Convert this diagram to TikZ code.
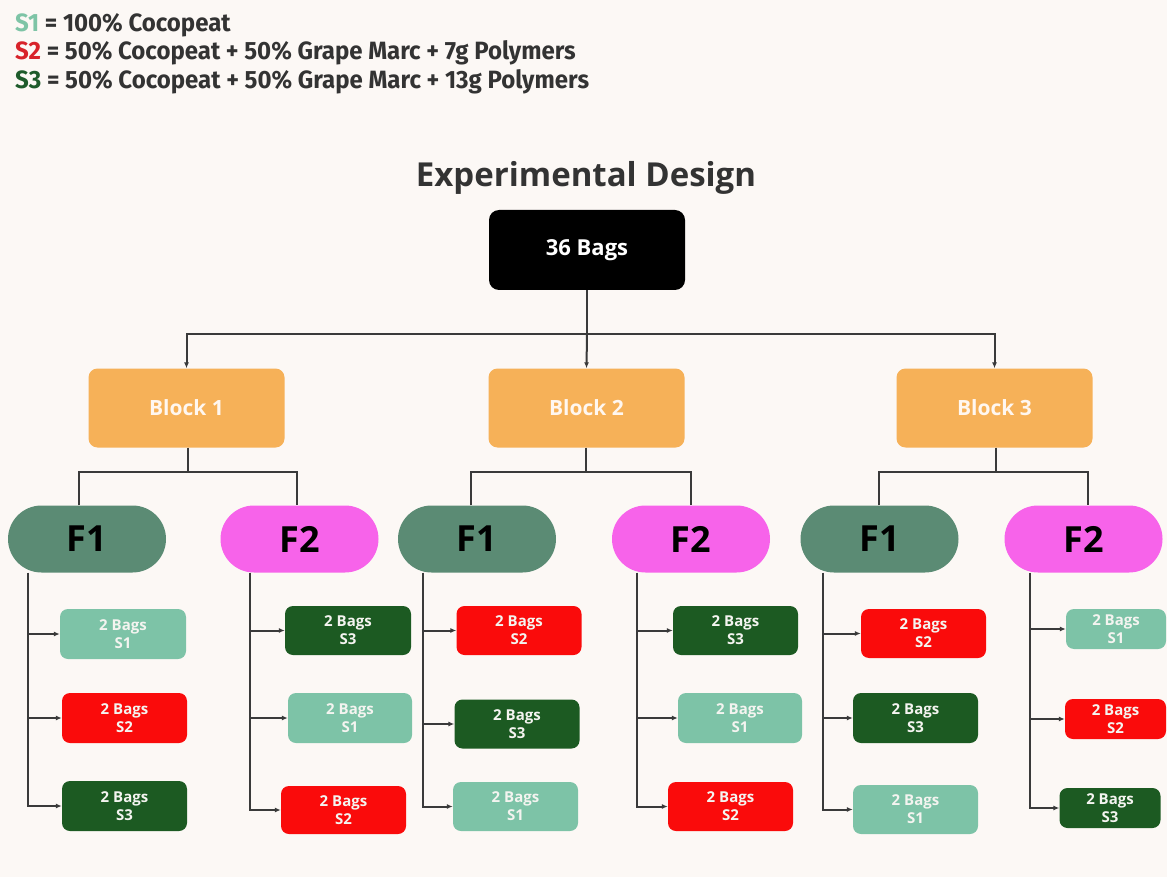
\documentclass[tikz,border=0pt]{standalone}
\usepackage{fontspec}
\setmainfont{Open Sans}
\newfontfamily\legfont{Fira Sans}
\usetikzlibrary{arrows.meta,shapes.misc}
\definecolor{bgc}{HTML}{FCF8F5}
\definecolor{sone}{HTML}{7DC3A7}
\definecolor{stwo}{HTML}{FA0B0B}
\definecolor{sthree}{HTML}{1C5A22}
\definecolor{lone}{HTML}{7EC4A6}
\definecolor{ltwo}{HTML}{D8232A}
\definecolor{lthree}{HTML}{1E5B2B}
\definecolor{fone}{HTML}{5B8B74}
\definecolor{ftwo}{HTML}{F763EA}
\definecolor{blkc}{HTML}{F6B158}
\definecolor{ink}{HTML}{333333}
\definecolor{wire}{HTML}{3A3A3A}
\definecolor{paletext}{HTML}{F4F4F0}
\tikzset{
  leaf/.style={rectangle, rounded corners=8pt, inner sep=0pt, text=paletext,
    font=\bfseries\fontsize{15}{18}\selectfont, align=center},
  sa/.style={leaf, fill=sone},
  sb/.style={leaf, fill=stwo},
  sc/.style={leaf, fill=sthree},
  blockbox/.style={rectangle, rounded corners=9pt, fill=blkc, inner sep=0pt,
    minimum width=196pt, minimum height=79pt, text=white!94!orange,
    font=\bfseries\fontsize{21}{24}\selectfont},
  pill/.style={rounded rectangle, inner sep=0pt, minimum width=158pt,
    minimum height=67pt, text=black, font=\bfseries\fontsize{36}{38}\selectfont},
  fa/.style={pill, fill=fone},
  fb/.style={pill, fill=ftwo},
  wireline/.style={draw=wire, line width=2pt},
  arr/.style={wireline, -{Latex[length=6pt,width=5pt]}},
  legtext/.style={anchor=base west, inner sep=0pt, text=ink,
    font=\legfont\bfseries\fontsize{25}{27}\selectfont},
}
\begin{document}
\begin{tikzpicture}[x=1pt,y=-1pt]
\fill[bgc] (0,0) rectangle (1167,877);
\useasboundingbox (0,0) rectangle (1167,877);

% legend
\node[legtext] (leg1) at (15,32) {\scalebox{0.96}[1]{\textcolor{lone}{S1} = 100\% Cocopeat}};
\node[legtext] (leg2) at (15,60) {\scalebox{0.96}[1]{\textcolor{ltwo}{S2} = 50\% Cocopeat + 50\% Grape Marc + 7g Polymers}};
\node[legtext] (leg3) at (15,89) {\scalebox{0.96}[1]{\textcolor{lthree}{S3} = 50\% Cocopeat + 50\% Grape Marc + 13g Polymers}};

% title
\node[anchor=base, inner sep=0pt, text=ink, font=\bfseries\fontsize{33}{36}\selectfont] (title) at (586,187) {Experimental Design};

% root
\node[rectangle, rounded corners=10pt, fill=black, inner sep=0pt, minimum width=196pt,
  minimum height=80pt, text=white, font=\bfseries\fontsize{22}{24}\selectfont] (root) at (587,250) {36 Bags};

% blocks
\node[blockbox] (b1) at (186.5,408) {Block 1};
\node[blockbox] (b2) at (586.5,408) {Block 2};
\node[blockbox] (b3) at (994.5,408) {Block 3};

% F nodes
\node[fa] (f11) at (87,539) {F1};
\node[fb] (f12) at (299.5,539) {F2};
\node[fa] (f21) at (477,539) {F1};
\node[fb] (f22) at (691,539) {F2};
\node[fa] (f31) at (879.5,539) {F1};
\node[fb] (f32) at (1083.5,539) {F2};

% leaves block 1
\node[sa, minimum width=126pt, minimum height=50pt] (l111) at (123,634) {2 Bags\\S1};
\node[sb, minimum width=125pt, minimum height=50pt] (l112) at (124.5,718) {2 Bags\\S2};
\node[sc, minimum width=125pt, minimum height=50pt] (l113) at (124.5,806) {2 Bags\\S3};
\node[sc, minimum width=126pt, minimum height=49pt] (l121) at (348,630.5) {2 Bags\\S3};
\node[sa, minimum width=124pt, minimum height=50pt] (l122) at (350,718) {2 Bags\\S1};
\node[sb, minimum width=125pt, minimum height=48pt] (l123) at (343.5,810) {2 Bags\\S2};
% leaves block 2
\node[sb, minimum width=125pt, minimum height=49pt] (l211) at (519,630.5) {2 Bags\\S2};
\node[sc, minimum width=125pt, minimum height=49pt] (l212) at (517,724) {2 Bags\\S3};
\node[sa, minimum width=125pt, minimum height=49pt] (l213) at (515.5,806.5) {2 Bags\\S1};
\node[sc, minimum width=125pt, minimum height=49pt] (l221) at (735.5,630.5) {2 Bags\\S3};
\node[sa, minimum width=124pt, minimum height=50pt] (l222) at (740,718) {2 Bags\\S1};
\node[sb, minimum width=125pt, minimum height=49pt] (l223) at (730.5,806.5) {2 Bags\\S2};
% leaves block 3
\node[sb, minimum width=125pt, minimum height=49pt] (l311) at (923.5,633.5) {2 Bags\\S2};
\node[sc, minimum width=125pt, minimum height=50pt] (l312) at (915.5,718) {2 Bags\\S3};
\node[sa, minimum width=125pt, minimum height=49pt] (l313) at (915.5,809.5) {2 Bags\\S1};
\node[sa, minimum width=100pt, minimum height=40pt] (l321) at (1116,629) {2 Bags\\S1};
\node[sb, minimum width=101pt, minimum height=40pt] (l322) at (1115.5,719) {2 Bags\\S2};
\node[sc, minimum width=101pt, minimum height=40pt] (l323) at (1110,808) {2 Bags\\S3};

% root to blocks
\coordinate (rj) at (587,334);
\draw[wireline] (root.south) -- (rj);
\draw[arr] (rj) -| (b1.north);
\draw[arr] (rj) -- (b2.north);
\draw[arr] (rj) -| (b3.north);

% blocks to F nodes
\coordinate (b1j) at (188,472);
\coordinate (b2j) at (586,472);
\coordinate (b3j) at (996,472);
\draw[wireline] (b1.south -| b1j) -- (b1j);
\draw[wireline] (f11.north -| 79,0) |- (b1j) -| (f12.north -| 297,0);
\draw[wireline] (b2.south -| b2j) -- (b2j);
\draw[wireline] (f21.north -| 471,0) |- (b2j) -| (f22.north -| 691,0);
\draw[wireline] (b3.south -| b3j) -- (b3j);
\draw[wireline] (f31.north -| 879,0) |- (b3j) -| (f32.north -| 1088,0);

% F to leaves
\foreach \f/\tx/\la/\lb/\lc in {f11/28/l111/l112/l113, f12/250/l121/l122/l123,
  f21/423/l211/l212/l213, f22/637/l221/l222/l223,
  f31/823/l311/l312/l313, f32/1030/l321/l322/l323}{
  \coordinate (\f t) at (\f.south -| \tx,0);
  \draw[wireline] (\f t) -- (\f t |- \lc.west);
  \draw[arr] (\f t |- \la.west) -- (\la.west);
  \draw[arr] (\f t |- \lb.west) -- (\lb.west);
  \draw[arr] ([xshift=-1pt]\f t |- \lc.west) -- (\lc.west);
}
\end{tikzpicture}
\end{document}
